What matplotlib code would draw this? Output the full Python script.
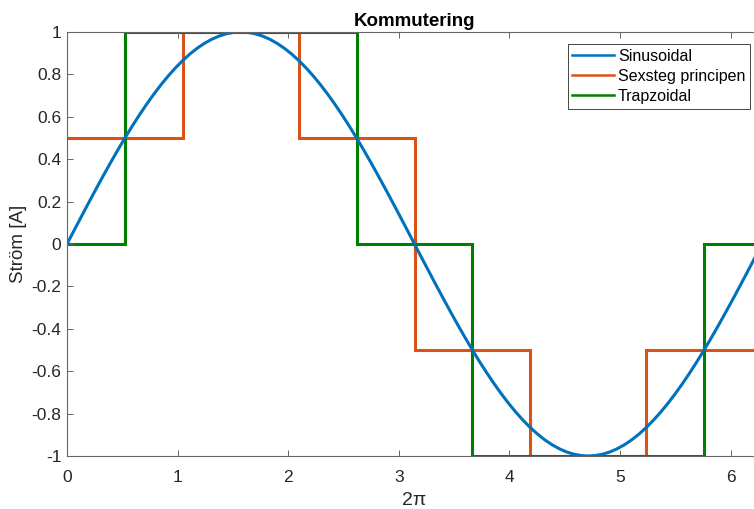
import numpy as np
import matplotlib
matplotlib.use("Agg")
import matplotlib.pyplot as plt

plt.rcParams['font.family'] = ['Liberation Sans', 'DejaVu Sans']

# Sinusoidal samples over one period (quarter-wave values read, mirrored for full period)
sin_quarter = [0.0, 0.0654, 0.1305, 0.1951, 0.2588, 0.3214, 0.3827, 0.4423, 0.5, 0.5556,
               0.6088, 0.6593, 0.7071, 0.7518, 0.7934, 0.8315, 0.8660, 0.8969, 0.9239,
               0.9469, 0.9659, 0.9808, 0.9914, 0.9979, 1.0]
sin_half = sin_quarter + sin_quarter[-2::-1]
sin_y = sin_half + [-v for v in sin_half[1:]]
sin_x = list(np.linspace(0, 2 * np.pi, len(sin_y)))

# Six-step
six_edges = [0.0, 1.047, 2.094, 3.142, 4.189, 5.236, 6.283]
six_levels = [0.5, 1.0, 0.5, -0.5, -1.0, -0.5]

# Trapezoidal
trap_edges = [0.0, 0.524, 2.618, 3.665, 5.760, 6.283]
trap_levels = [0.0, 1.0, 0.0, -1.0, 0.0]

labels = ["Sinusoidal", "Sexsteg principen", "Trapzoidal"]
colors = ["#0072BD", "#D95319", "#008000"]
xticks = [0, 1, 2, 3, 4, 5, 6]
yticks = [-1, -0.8, -0.6, -0.4, -0.2, 0, 0.2, 0.4, 0.6, 0.8, 1]
ytick_labels = ["-1", "-0.8", "-0.6", "-0.4", "-0.2", "0", "0.2", "0.4", "0.6", "0.8", "1"]

fig = plt.figure(figsize=(7.54, 5.09), dpi=100)
ax = fig.add_axes([67 / 754, 1 - 456 / 509, (762 - 67) / 754, (456 - 32) / 509])

lw = 2.2
ax.plot(sin_x, sin_y, color=colors[0], lw=lw, label=labels[0])
ax.stairs(six_levels, six_edges, color=colors[1], lw=lw, baseline=None, label=labels[1])
ax.stairs(trap_levels, trap_edges, color=colors[2], lw=lw, baseline=None, label=labels[2])

ax.set_xlim(0, 2 * np.pi)
ax.set_ylim(-1, 1)
ax.set_xticks(xticks)
ax.set_yticks(yticks)
ax.set_xticklabels([str(t) for t in xticks])
ax.set_yticklabels(ytick_labels)
ax.tick_params(direction='in', top=True, right=True, length=4, width=0.7,
               colors='#666666', labelsize=12.5, labelcolor='#262626')
ax.tick_params(axis='x', pad=10)
ax.tick_params(axis='y', pad=4)
for s in ax.spines.values():
    s.set_color('#666666')
    s.set_linewidth(0.8)

ax.set_title("Kommutering", fontsize=13.5, fontweight='bold', pad=4, color='#000000')
ax.set_xlabel("2π", fontsize=14, color='#262626', labelpad=5)
ax.set_ylabel("Ström [A]", fontsize=13.5, color='#262626', labelpad=3)

leg = ax.legend(loc='upper right', bbox_to_anchor=(750 / 754, 1 - 44 / 509),
                bbox_transform=fig.transFigure, borderaxespad=0, fontsize=11.5,
                fancybox=False, framealpha=1, edgecolor='#262626',
                handlelength=2.6, handletextpad=0.25, labelspacing=0.32, borderpad=0.3)
leg.get_frame().set_linewidth(0.6)
for h in leg.get_lines():
    h.set_linewidth(1.8)

fig.savefig("out.png", dpi=100)
